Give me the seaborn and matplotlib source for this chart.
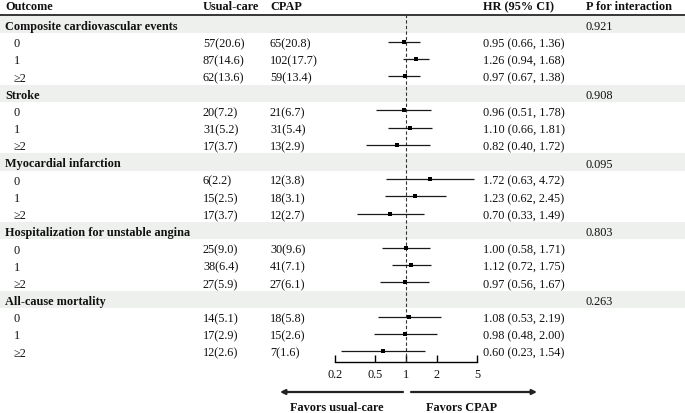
import matplotlib
matplotlib.use("Agg")
import matplotlib.pyplot as plt
import matplotlib.ticker as mticker
import seaborn as sns
import numpy as np

# ---------------- data ----------------
groups = ["Composite cardiovascular events", "Stroke", "Myocardial infarction",
          "Hospitalization for unstable angina", "All-cause mortality"]
levels = ["0", "1", "\u22652"]
usual_care = ["57(20.6)", "87(14.6)", "62(13.6)",
              "20(7.2)", "31(5.2)", "17(3.7)",
              "6(2.2)", "15(2.5)", "17(3.7)",
              "25(9.0)", "38(6.4)", "27(5.9)",
              "14(5.1)", "17(2.9)", "12(2.6)"]
cpap = ["65(20.8)", "102(17.7)", "59(13.4)",
        "21(6.7)", "31(5.4)", "13(2.9)",
        "12(3.8)", "18(3.1)", "12(2.7)",
        "30(9.6)", "41(7.1)", "27(6.1)",
        "18(5.8)", "15(2.6)", "7(1.6)"]
hr = [0.95, 1.26, 0.97, 0.96, 1.10, 0.82, 1.72, 1.23, 0.70, 1.00, 1.12, 0.97, 1.08, 0.98, 0.60]
lo = [0.66, 0.94, 0.67, 0.51, 0.66, 0.40, 0.63, 0.62, 0.33, 0.58, 0.72, 0.56, 0.53, 0.48, 0.23]
hi = [1.36, 1.68, 1.38, 1.78, 1.81, 1.72, 4.72, 2.45, 1.49, 1.71, 1.75, 1.67, 2.19, 2.00, 1.54]
p_interaction = ["0.921", "0.908", "0.095", "0.803", "0.263"]
tick_values = [0.2, 0.5, 1, 2, 5]
tick_labels = ["0.2", "0.5", "1", "2", "5"]
headers = ["Outcome", "Usual-care", "CPAP", "HR (95% CI)", "P for interaction"]

# ---------------- style ----------------
sns.set_style("white")
plt.rcParams["font.family"] = ["Liberation Serif", "DejaVu Serif"]
FS = 8.8
BAND = "#eef0ee"
TXT = "#111111"
W, H = 685, 413

fig = plt.figure(figsize=(W / 100, H / 100), dpi=100)
bg = fig.add_axes([0, 0, 1, 1])
bg.set_xlim(0, W)
bg.set_ylim(H, 0)
bg.axis("off")

# layout (pixel units)
ROW0, STEP = 24.4, 17.2
TOP, AXY = 15, 362
col_x = [5, 203, 270, 483, 586]
sub_x = 14
base = 5.5

def rowy(i):
    return ROW0 + STEP * i

# header
for x, h in zip(col_x, headers):
    bg.text(x, 10.5, h, fontsize=FS, fontweight="bold", va="baseline", ha="left", color=TXT)
bg.axhline(TOP, color="black", lw=1.1)

ypos = []
r = 0
for g, name in enumerate(groups):
    y = rowy(r)
    bg.axhspan(y - STEP / 2, y + STEP / 2, color=BAND, lw=0, zorder=0)
    bg.text(col_x[0], y + base, name, fontsize=FS, fontweight="bold", va="baseline", color=TXT)
    bg.text(col_x[4], y + base, p_interaction[g], fontsize=FS, va="baseline", color=TXT)
    r += 1
    for k, lev in enumerate(levels):
        idx = g * 3 + k
        y = rowy(r)
        ypos.append(y)
        bg.text(sub_x, y + base, lev, fontsize=FS, va="baseline", color=TXT)
        bg.text(col_x[1], y + base, usual_care[idx], fontsize=FS, va="baseline", color=TXT)
        bg.text(col_x[2], y + base, cpap[idx], fontsize=FS, va="baseline", color=TXT)
        bg.text(col_x[3], y + base,
                f"{hr[idx]:.2f} ({lo[idx]:.2f}, {hi[idx]:.2f})",
                fontsize=FS, va="baseline", color=TXT)
        r += 1

# ---------------- forest axes ----------------
x0, x1 = 335, 477
ax = fig.add_axes([x0 / W, (H - AXY) / H, (x1 - x0) / W, (AXY - TOP) / H])
ax.patch.set_alpha(0)
ax.set_xscale("log")
ax.set_xlim(tick_values[0], tick_values[-1])
ax.set_ylim(AXY, TOP)
ax.axvline(1, color="#333333", lw=0.8, ls=(0, (3, 2)), zorder=1)
ax.hlines(ypos, lo, hi, color="#1a1a1a", lw=0.9, zorder=2)
sns.scatterplot(x=hr, y=ypos, marker="s", color="black", s=9, linewidth=0,
                ax=ax, legend=False, zorder=3)
for s in ["top", "left", "right"]:
    ax.spines[s].set_visible(False)
ax.spines["bottom"].set_linewidth(1.0)
ax.spines["bottom"].set_color("black")
ax.xaxis.set_major_locator(mticker.FixedLocator(tick_values))
ax.xaxis.set_major_formatter(mticker.FixedFormatter(tick_labels))
ax.xaxis.set_minor_locator(mticker.NullLocator())
ax.tick_params(axis="x", direction="in", length=5, width=1.0, color="black",
               labelsize=FS, labelcolor=TXT, pad=5, bottom=True)
ax.set_yticks([])
ax.set_xlabel("")
ax.set_ylabel("")

# arrows and favors labels
ay = 392
bg.annotate("", xy=(280, ay), xytext=(403, ay),
            arrowprops=dict(arrowstyle="-|>", lw=1.6, color="#222222",
                            mutation_scale=7, shrinkA=0, shrinkB=0))
bg.annotate("", xy=(537, ay), xytext=(411, ay),
            arrowprops=dict(arrowstyle="-|>", lw=1.6, color="#222222",
                            mutation_scale=7, shrinkA=0, shrinkB=0))
bg.text(336.5, 411, "Favors usual-care", fontsize=FS, fontweight="bold",
        ha="center", va="baseline", color=TXT)
bg.text(461.5, 411, "Favors CPAP", fontsize=FS, fontweight="bold",
        ha="center", va="baseline", color=TXT)

fig.savefig("out.png", dpi=100)
